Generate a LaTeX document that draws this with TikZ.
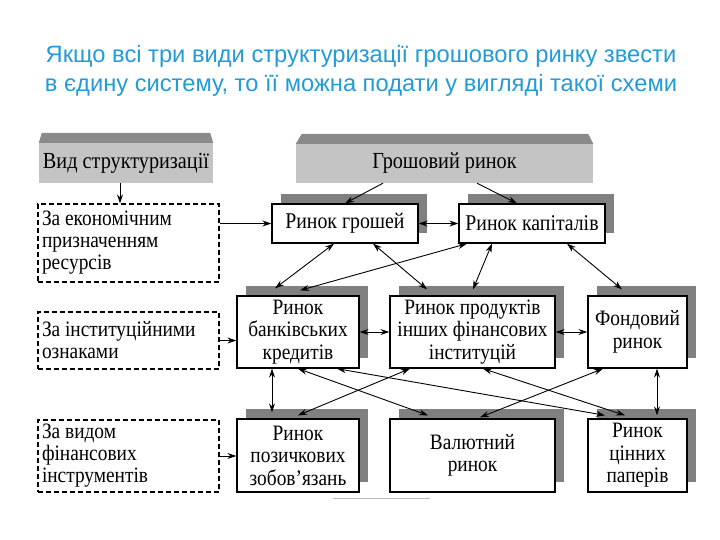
\documentclass[tikz,border=0pt]{standalone}
\usepackage{fontspec}
\setmainfont{Liberation Serif}
\newfontfamily\titlefont{Liberation Sans}
\newfontfamily\diagfont{Liberation Serif}[FakeStretch=0.88]
\usetikzlibrary{arrows.meta,shadows,calc}
\definecolor{titleblue}{RGB}{35,155,215}
\definecolor{shadowgray}{RGB}{128,128,128}
\definecolor{headgray}{RGB}{196,196,196}
\definecolor{bevelgray}{RGB}{138,138,138}
\begin{document}
\begin{tikzpicture}[x=1pt,y=-1pt,
  ttl/.style={font=\titlefont\fontsize{23.7}{26}\selectfont, text=titleblue, anchor=base, inner sep=0pt},
  mkt/.style={draw=black, line width=1.3pt, fill=white, align=center, inner sep=0pt,
    font=\diagfont\fontsize{22}{22.5}\selectfont,
    general shadow={fill=shadowgray, shadow xshift=9pt, shadow yshift=10pt}},
  big/.style={font=\diagfont\fontsize{22.5}{24}\selectfont},
  hdr/.style={fill=headgray, inner sep=0pt, font=\diagfont\fontsize{23}{24}\selectfont},
  dsh/.style={draw=black, dash pattern=on 5pt off 3pt, line width=1.2pt, align=flush left,
    inner xsep=4pt, inner ysep=0pt, text width=173pt,
    font=\diagfont\fontsize{22}{22}\selectfont},
  arr/.style={-{Stealth[length=9pt,width=6pt]}, line width=0.9pt},
  dbl/.style={{Stealth[length=9pt,width=6pt]}-{Stealth[length=9pt,width=6pt]}, line width=0.9pt}
]
\useasboundingbox (0,0) rectangle (720,540);
\fill[white] (0,0) rectangle (720,540);

% title
\node[ttl] (t1) at (361,63) {Якщо всі три види структуризації грошового ринку звести};
\node[ttl] (t2) at (361,92) {в єдину систему, то її можна подати у вигляді такої схеми};

% headers
\node[hdr, minimum width=174pt, minimum height=40pt] (hv) at (126,163) {Вид структуризації};
\node[hdr, minimum width=297pt, minimum height=39pt] (hg) at (444.5,163.5) {Грошовий ринок};
\fill[bevelgray] (hv.north west) -- ([shift={(3,-10)}]hv.north west) -- ([shift={(-3,-10)}]hv.north east) -- (hv.north east) -- cycle;
\fill[bevelgray] (hg.north west) -- ([shift={(6,-10)}]hg.north west) -- ([shift={(-5,-10)}]hg.north east) -- (hg.north east) -- cycle;

% dashed criteria boxes
\node[dsh, minimum height=78pt] (d1) at (128.5,243) {За економічним\\призначенням\\ресурсів};
\node[dsh, minimum height=57pt] (d2) at (128.5,340.5) {За інституційними\\ознаками};
\node[dsh, minimum height=72pt] (d3) at (128.5,456) {За видом\\фінансових\\інструментів};

% market boxes
\node[mkt, big, minimum width=146pt, minimum height=39pt] (m1) at (345,223.5) {Ринок грошей};
\node[mkt, big, minimum width=146pt, minimum height=39pt] (m2) at (532,223.5) {Ринок капіталів};
\node[mkt, minimum width=122pt, minimum height=72pt] (b1) at (298,332) {Ринок\\банківських\\кредитів};
\node[mkt, minimum width=165pt, minimum height=72pt] (b2) at (472.5,332) {Ринок продуктів\\інших фінансових\\інституцій};
\node[mkt, minimum width=99pt, minimum height=72pt] (b3) at (637.5,332) {Фондовий\\ринок};
\node[mkt, minimum width=122pt, minimum height=73pt] (c1) at (298,455.5) {Ринок\\позичкових\\зобов’язань};
\node[mkt, minimum width=165pt, minimum height=73pt] (c2) at (472.5,455.5) {Валютний\\ринок};
\node[mkt, minimum width=99pt, minimum height=73pt] (c3) at (637.5,455.5) {Ринок\\цінних\\паперів};

% left arrows
\draw[arr] ([shift={(-6,0)}]hv.south) -- ([shift={(-8.5,0)}]d1.north);
\draw[arr] (d1.east |- m1.west) -- (m1.west);
\draw[arr] (d2.east) -- (d2.east -| b1.west);
\draw[arr] (d3.east) -- (d3.east -| c1.west);

% header to first row
\draw[arr] ([shift={(-61.5,0)}]hg.south) -- (m1.north);
\draw[arr] ([shift={(32.5,0)}]hg.south) -- ([shift={(-15,0)}]m2.north);
\draw[dbl] (m1.east) -- (m2.west);

% first row to second row
\draw[dbl] ([shift={(-11,0)}]m1.south) -- ([shift={(-23,-7)}]b1.north);
\draw[dbl] ([shift={(-65,0)}]m2.south) -- ([shift={(2,-5)}]b1.north);
\draw[dbl] ([shift={(28,0)}]m1.south) -- ([shift={(-45.5,-6)}]b2.north);
\draw[dbl] ([shift={(-40,0)}]m2.south) -- ([shift={(0.5,-6)}]b2.north);
\draw[dbl] ([shift={(35,0)}]m2.south) -- ([shift={(-15.5,-6)}]b3.north);

% second row horizontal
\draw[dbl] (b1.east) -- (b2.west);
\draw[dbl] (b2.east) -- (b3.west);

% second row to third row
\draw[dbl] ([shift={(-26,0)}]b1.south) -- ([shift={(-26,-6)}]c1.north);
\draw[dbl] ([shift={(-62.5,0)}]b2.south) -- ([shift={(0,-3)}]c1.north);
\draw[dbl] ([shift={(0,0)}]b1.south) -- ([shift={(-44.5,-3)}]c2.north);
\draw[dbl] ([shift={(39,0)}]b1.south) -- ([shift={(-32.5,-3)}]c3.north);
\draw[dbl] ([shift={(10.5,0)}]b2.south) -- ([shift={(-12.5,-3)}]c3.north);
\draw[dbl] ([shift={(-34.5,0)}]b3.south) -- ([shift={(7.5,-1)}]c2.north);
\draw[dbl] ([shift={(19.5,0)}]b3.south) -- ([shift={(19.5,-3)}]c3.north);

% faint scan artefact line
\draw[gray!55, line width=0.8pt] ([shift={(-139.5,6)}]c2.south) -- ([shift={(-42.5,6)}]c2.south);
\end{tikzpicture}
\end{document}
